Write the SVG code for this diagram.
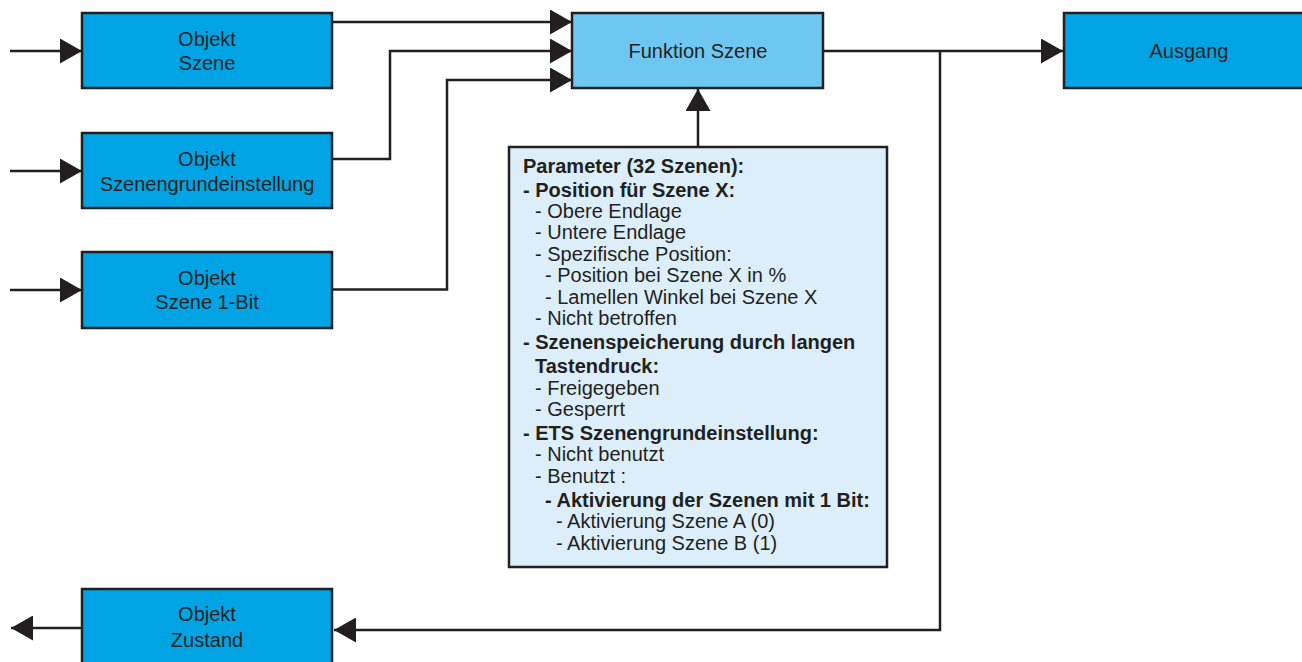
<svg xmlns="http://www.w3.org/2000/svg" width="1302" height="662" viewBox="0 0 1302 662">
<style>
.box{fill:#00A4E4;stroke:#231F20;stroke-width:2.5}
.fn{fill:#6EC7F0;stroke:#231F20;stroke-width:2.5}
.par{fill:#DCEEFA;stroke:#231F20;stroke-width:2.5}
.t{font-family:"Liberation Sans",Arial,sans-serif;font-size:20px;fill:#231F20}
.c{text-anchor:middle}
.b{font-weight:bold}
.ln{fill:none;stroke:#231F20;stroke-width:2.5}
</style>
<defs>
<marker id="ah" viewBox="0 0 22 25" refX="22" refY="12.5" markerWidth="22" markerHeight="25" markerUnits="userSpaceOnUse" orient="auto">
<path d="M0,0 L22,12.5 L0,25 z" fill="#231F20"/>
</marker>
</defs>
<rect width="1302" height="662" fill="#fff"/>
<g id="connectors">
<path class="ln" d="M10,51 H82" marker-end="url(#ah)"/>
<path class="ln" d="M10,171 H82" marker-end="url(#ah)"/>
<path class="ln" d="M10,290 H82" marker-end="url(#ah)"/>
<path class="ln" d="M332,22 H572" marker-end="url(#ah)"/>
<path class="ln" d="M332,159 H390 V51 H572" marker-end="url(#ah)"/>
<path class="ln" d="M332,289.5 H447 V80 H572" marker-end="url(#ah)"/>
<path class="ln" d="M698,147 V89" marker-end="url(#ah)"/>
<path class="ln" d="M823,51 H1063" marker-end="url(#ah)"/>
<path class="ln" d="M940,51 V630 H334" marker-end="url(#ah)"/>
<path class="ln" d="M82,628 H11" marker-end="url(#ah)"/>
</g>
<g id="objekt-szene">
<rect class="box" x="82" y="13" width="250" height="75"/>
<text class="t c" x="207" y="46">Objekt</text>
<text class="t c" x="207" y="70">Szene</text>
</g>
<g id="objekt-szenengrundeinstellung">
<rect class="box" x="82" y="133" width="250" height="75"/>
<text class="t c" x="207" y="166">Objekt</text>
<text class="t c" x="207" y="191">Szenengrundeinstellung</text>
</g>
<g id="objekt-szene-1bit">
<rect class="box" x="82" y="252" width="250" height="76"/>
<text class="t c" x="207" y="285">Objekt</text>
<text class="t c" x="207" y="309">Szene 1-Bit</text>
</g>
<g id="objekt-zustand">
<rect class="box" x="82" y="589" width="250" height="80"/>
<text class="t c" x="207" y="621">Objekt</text>
<text class="t c" x="207" y="647">Zustand</text>
</g>
<g id="funktion-szene">
<rect class="fn" x="572" y="13" width="251" height="75"/>
<text class="t c" x="698" y="58">Funktion Szene</text>
</g>
<g id="ausgang">
<rect class="box" x="1064" y="13" width="250" height="75"/>
<text class="t c" x="1189" y="58">Ausgang</text>
</g>
<g id="parameter">
<rect class="par" x="509" y="147" width="378" height="420"/>
<text class="t b" x="523" y="173">Parameter (32 Szenen):</text>
<text class="t b" x="523" y="196.5">- Position für Szene X:</text>
<text class="t" x="535" y="217.5">- Obere Endlage</text>
<text class="t" x="535" y="239">- Untere Endlage</text>
<text class="t" x="535" y="260.5">- Spezifische Position:</text>
<text class="t" x="545" y="282">- Position bei Szene X in %</text>
<text class="t" x="545" y="303.5">- Lamellen Winkel bei Szene X</text>
<text class="t" x="535" y="325">- Nicht betroffen</text>
<text class="t b" x="523" y="348.5">- Szenenspeicherung durch langen</text>
<text class="t b" x="535" y="373">Tastendruck:</text>
<text class="t" x="535" y="395">- Freigegeben</text>
<text class="t" x="535" y="416">- Gesperrt</text>
<text class="t b" x="523" y="440">- ETS Szenengrundeinstellung:</text>
<text class="t" x="535" y="461">- Nicht benutzt</text>
<text class="t" x="535" y="482.5">- Benutzt :</text>
<text class="t b" x="545" y="506.5">- Aktivierung der Szenen mit 1 Bit:</text>
<text class="t" x="556" y="528">- Aktivierung Szene A (0)</text>
<text class="t" x="556" y="549.5">- Aktivierung Szene B (1)</text>
</g>
</svg>
